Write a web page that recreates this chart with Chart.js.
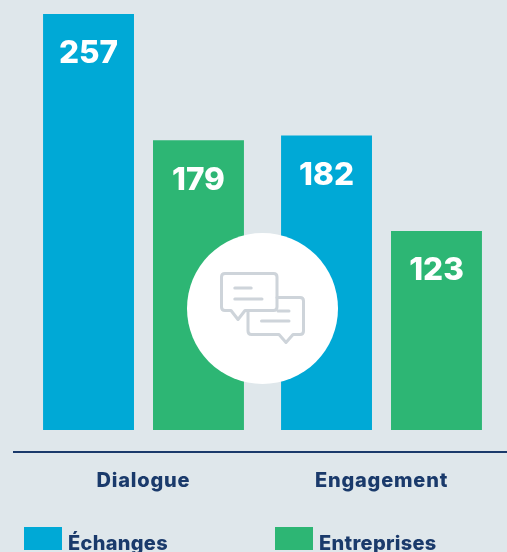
<!DOCTYPE html>
<html lang="fr">
<head>
<meta charset="utf-8">
<title>Dialogue et engagement</title>
<script src="https://cdn.jsdelivr.net/npm/chart.js@4"></script>
<style>
  html, body { margin: 0; padding: 0; background: #dfe7eb; overflow: hidden; }
  canvas { display: block; }
</style>
</head>
<body>
<canvas id="chart" width="507" height="552"></canvas>
<script>
const categories = ["Dialogue", "Engagement"];
const echanges = [257, 182];
const entreprises = [179, 123];
const seriesNames = ["Échanges", "Entreprises"];

const blue = "#00a9d6";
const green = "#2db674";
const navy = "#1a3a6b";
const fontFamily = "Inter, 'Open Sans', sans-serif";

// tick labels are a little wider in the reference
const tickSpacing = {
  id: "tickSpacing",
  beforeDraw(chart) {
    chart.ctx.letterSpacing = "0.8px";
  },
};

// value printed inside each bar, a fixed distance under its top
const valueLabels = {
  id: "valueLabels",
  afterDatasetsDraw(chart) {
    const c = chart.ctx;
    c.save();
    c.letterSpacing = "0px";
    c.font = "800 31.5px " + fontFamily;
    c.fillStyle = "#fff";
    c.textAlign = "center";
    c.textBaseline = "middle";
    chart.data.datasets.forEach((ds, i) => {
      chart.getDatasetMeta(i).data.forEach((bar, j) => {
        c.fillText(ds.data[j], bar.x, bar.y + 40);
      });
    });
    c.restore();
  },
};

// rule under the bars, white disc and chat icon
const decorations = {
  id: "decorations",
  afterDraw(chart) {
    const c = chart.ctx;
    c.save();
    c.strokeStyle = navy;
    c.lineWidth = 2;
    c.beginPath();
    c.moveTo(13, 452);
    c.lineTo(507, 452);
    c.stroke();

    c.fillStyle = "#fff";
    c.beginPath();
    c.arc(262.5, 308.5, 75.5, 0, Math.PI * 2);
    c.fill();

    c.strokeStyle = "#ced4da";
    c.lineWidth = 3;
    c.lineCap = "round";
    c.lineJoin = "round";
    c.stroke(new Path2D("M225 273.5H273.5Q277 273.5 277 277V307Q277 310.5 273.5 310.5H245L238 319.5L231 310.5H225Q221.5 310.5 221.5 307V277Q221.5 273.5 225 273.5Z"));
    c.stroke(new Path2D("M277 297.5H300Q303.5 297.5 303.5 301V331Q303.5 334.5 300 334.5H293L286 342.5L279 334.5H251.5Q248 334.5 248 331V311"));
    c.stroke(new Path2D("M234.8 288H251.2M234.8 299H262M278 311H289M261.5 321H289"));
    c.restore();
  },
};

// legend squares and names under the category labels
const legendRow = {
  id: "legendRow",
  afterDraw(chart) {
    const c = chart.ctx;
    const boxX = [24, 275];
    c.save();
    c.letterSpacing = "0.3px";
    c.font = "800 20px " + fontFamily;
    c.textBaseline = "alphabetic";
    chart.data.datasets.forEach((ds, i) => {
      c.fillStyle = ds.backgroundColor;
      c.fillRect(boxX[i], 527, 38, 23);
      c.fillStyle = navy;
      c.fillText(ds.label, boxX[i] + 44, 550);
    });
    c.restore();
  },
};

new Chart(document.getElementById("chart"), {
  type: "bar",
  data: {
    labels: categories,
    datasets: [
      { label: seriesNames[0], data: echanges, backgroundColor: blue },
      { label: seriesNames[1], data: entreprises, backgroundColor: green },
    ],
  },
  options: {
    responsive: false,
    animation: false,
    categoryPercentage: 0.924,
    barPercentage: 0.827,
    layout: { padding: { left: 24.5, right: 6.5, top: 14, bottom: 20 } },
    plugins: {
      legend: { display: false },
      tooltip: { enabled: false },
    },
    scales: {
      x: {
        grid: { display: false, drawTicks: false },
        border: { display: false },
        ticks: {
          color: navy,
          padding: 39,
          maxRotation: 0,
          font: { family: fontFamily, size: 20, weight: "800" },
        },
      },
      y: { display: false, min: 0, max: 257 },
    },
  },
  plugins: [tickSpacing, valueLabels, decorations, legendRow],
});
</script>
</body>
</html>
